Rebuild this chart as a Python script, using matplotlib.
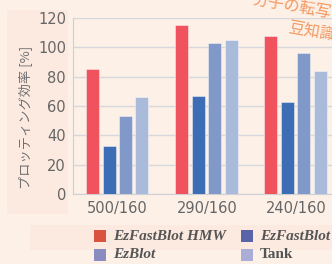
import matplotlib
matplotlib.use("Agg")
import matplotlib.pyplot as plt
import numpy as np
from matplotlib.patches import Rectangle

categories = ["500/160", "290/160", "240/160"]
series_names = ["EzFastBlot HMW", "EzFastBlot", "EzBlot", "Tank"]
hmw = [85, 115, 108]
fast = [33, 67, 63]
ezblot = [53, 103, 96]
tank = [66, 105, 84]
yticks = [0, 20, 40, 60, 80, 100, 120]

bar_colors = ["#F0525E", "#3D6DB5", "#8099C8", "#A9BADB"]
legend_colors = ["#D9533F", "#5B63A8", "#8A8CC0", "#AAAED6"]

fig = plt.figure(figsize=(3.32, 2.64), dpi=100)
fig.patch.set_facecolor("#FCF0E7")

# shaded panels
fig.add_artist(Rectangle((7/332, 1-214/264), 61/332, 204/264, transform=fig.transFigure,
                         facecolor="#FCEAE0", edgecolor="none", zorder=-5))
fig.add_artist(Rectangle((30/332, 1-250/264), 302/332, 25/264, transform=fig.transFigure,
                         facecolor="#FCEAE0", edgecolor="none", zorder=-5))

ax = fig.add_axes([73/332, 1-194/264, 268/332, 176/264])
ax.set_facecolor("none")
ax.set_zorder(2)
x = np.arange(len(categories))
offsets = [-0.286, -0.095, 0.084, 0.27]
w = 0.148
for vals, off, c in zip([hmw, fast, ezblot, tank], offsets, bar_colors):
    ax.bar(x + off, vals, width=w, color=c, edgecolor=(1, 1, 1, 0.5), linewidth=0.6, zorder=3)

ax.set_xlim(-0.5, 2.5)
ax.set_ylim(0, 120)
ax.set_yticks(yticks)
ax.set_xticks(x)
ax.set_xticklabels(categories)
ax.grid(axis="y", color="#D8D8DC", linewidth=1, zorder=0)
for s in ["top", "right"]:
    ax.spines[s].set_visible(False)
ax.spines["left"].set_color("#D0D0D4")
ax.spines["bottom"].set_color("#D0D0D4")
ax.tick_params(length=0, labelsize=10.5, colors="#666666", pad=5)

fig.text(25/332, 1-117/264, "プロッティング効率 [%]", rotation=90, ha="center", va="center",
         fontsize=9.5, color="#707070", family=["Noto Sans CJK JP", "DejaVu Sans"])

# legend
leg = [(94, 236, 0), (241, 236, 1), (94, 255, 2), (241, 255, 3)]
for px, py, i in leg:
    fig.add_artist(Rectangle((px/332, 1-(py+6)/264), 12/332, 12/264, transform=fig.transFigure,
                             facecolor=legend_colors[i], edgecolor="none", zorder=3))
    style = "normal" if series_names[i] == "Tank" else "italic"
    fig.text((px+19)/332, 1-py/264, series_names[i], ha="left", va="center", fontsize=11,
             fontweight="bold", style=style, color="#555555", family=["Liberation Serif"])

# watermark
fig.text(292/332, 1-6/264, "分子の転写", ha="center", va="center", fontsize=11.5, rotation=-10,
         color="#F28A4A", alpha=0.85, family=["Noto Sans CJK JP"], zorder=5)
fig.text(312/332, 1-31/264, "豆知識", ha="center", va="center", fontsize=11.5, rotation=-10,
         color="#F28A4A", alpha=0.85, family=["Noto Sans CJK JP"], zorder=5)

fig.savefig("out.png", dpi=100, facecolor=fig.get_facecolor())
